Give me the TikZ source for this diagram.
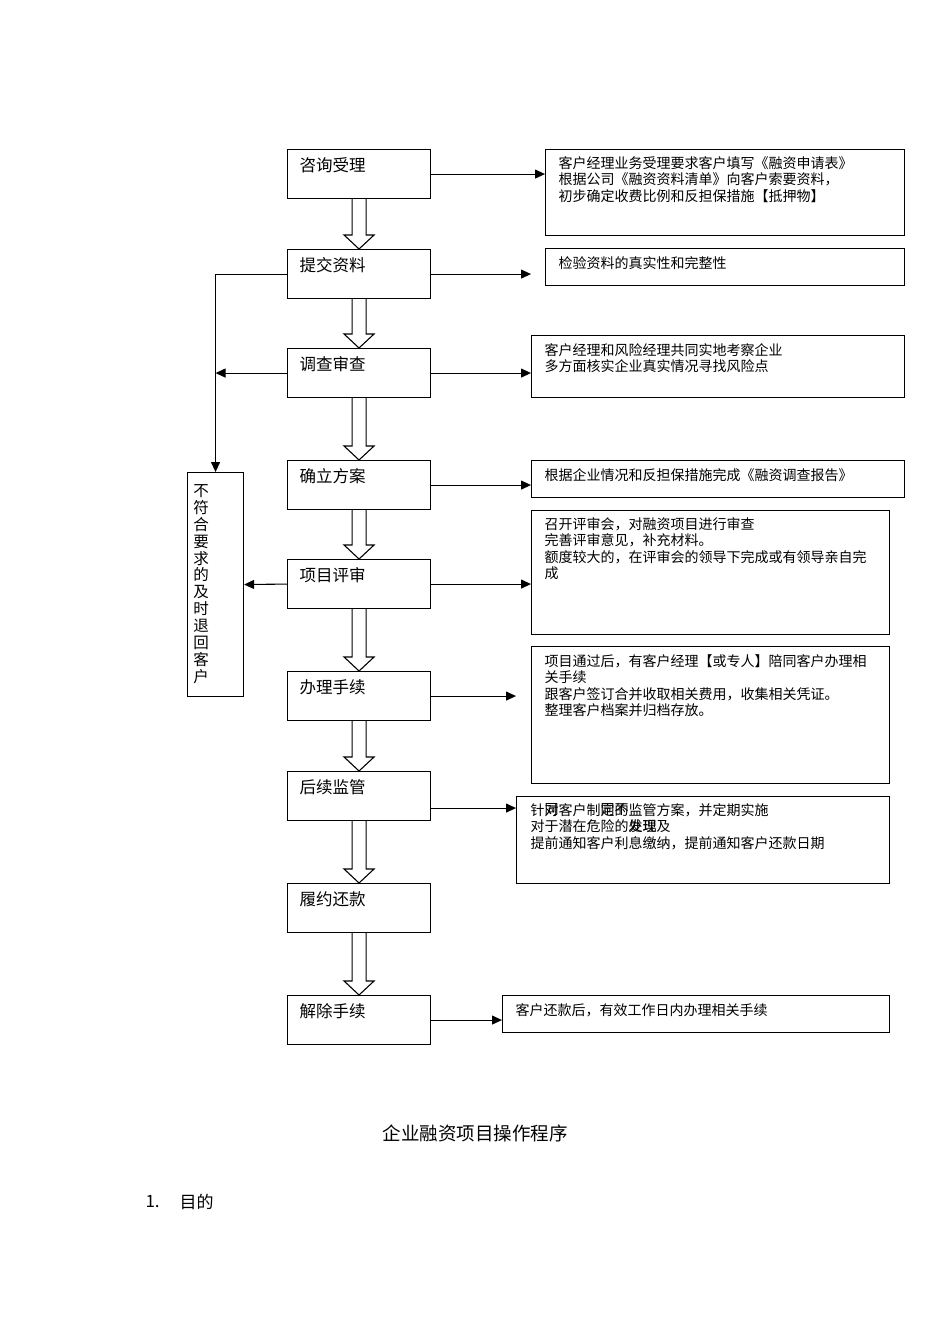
\documentclass[tikz,border=0pt]{standalone}
\usepackage{fontspec}
\setmainfont{Noto Sans CJK SC}
\usetikzlibrary{arrows.meta,calc}
\begin{document}
\begin{tikzpicture}[x=1pt,y=-1pt,
  line width=1.1pt,
  mainbox/.style={draw, anchor=north west, inner xsep=12pt, inner ysep=0pt,
    text width=119pt, align=left, text height=22pt, text depth=27pt,
    font=\fontsize{16.5}{18}\selectfont},
  rbox/.style={draw, anchor=north west, inner sep=0pt},
  rtext/.style={anchor=north west, inner sep=0pt, align=left,
    font=\fontsize{14}{16.5}\selectfont},
  arr/.style={-{Triangle[length=10pt,width=9pt]}},
  hollow/.style={draw, fill=white, line width=1.1pt, line join=miter}
]
\useasboundingbox (0,0) rectangle (950,1344);
\newcommand\harrow[2]{%
  \path[hollow] ($(#1.south)+(-7,0)$) -- ($(#2.north)+(-7,-14)$) -- ($(#2.north)+(-15,-14)$)
    -- (#2.north) -- ($(#2.north)+(15,-14)$) -- ($(#2.north)+(7,-14)$) -- ($(#1.south)+(7,0)$);}

% main boxes
\node[mainbox] (n1) at (287,149) {咨询受理};
\node[mainbox] (n2) at (287,249) {提交资料};
\node[mainbox] (n3) at (287,348) {调查审查};
\node[mainbox] (n4) at (287,460) {确立方案};
\node[mainbox] (n5) at (287,559) {项目评审};
\node[mainbox] (n6) at (287,671) {办理手续};
\node[mainbox] (n7) at (287,771) {后续监管};
\node[mainbox] (n8) at (287,883) {履约还款};
\node[mainbox] (n9) at (287,995) {解除手续};

\harrow{n1}{n2}
\harrow{n2}{n3}
\harrow{n3}{n4}
\harrow{n4}{n5}
\harrow{n5}{n6}
\harrow{n6}{n7}
\harrow{n7}{n8}
\harrow{n8}{n9}

% left box
\node[rbox, minimum width=56pt, minimum height=224pt] (lb) at (187,472) {};
\node[anchor=north, inner sep=0pt, align=center,
  font=\fontsize{15.5}{16.9}\selectfont] (lbt) at (201,484)
  {不\\符\\合\\要\\求\\的\\及\\时\\退\\回\\客\\户};

% right boxes
\node[rbox, minimum width=359pt, minimum height=86pt]  (r1) at (545,149) {};
\node[rbox, minimum width=359pt, minimum height=37pt]  (r2) at (545,248) {};
\node[rbox, minimum width=373pt, minimum height=62pt]  (r3) at (531,335) {};
\node[rbox, minimum width=373pt, minimum height=37pt]  (r4) at (531,460) {};
\node[rbox, minimum width=358pt, minimum height=124pt] (r5) at (531,510) {};
\node[rbox, minimum width=358pt, minimum height=137pt] (r6) at (531,646) {};
\node[rbox, minimum width=373pt, minimum height=87pt]  (r7) at (516,796) {};
\node[rbox, minimum width=387pt, minimum height=37pt]  (r8) at (502,995) {};

\node[rtext] (t1) at (558,156) {客户经理业务受理要求客户填写《融资申请表》\\根据公司《融资资料清单》向客户索要资料，\\初步确定收费比例和反担保措施【抵押物】};
\node[rtext] (t2) at (558,256) {检验资料的真实性和完整性};
\node[rtext] (t3) at (544,343) {客户经理和风险经理共同实地考察企业\\多方面核实企业真实情况寻找风险点};
\node[rtext] (t4) at (544,468) {根据企业情况和反担保措施完成《融资调查报告》};
\node[rtext] (t5) at (544,517) {召开评审会，对融资项目进行审查\\完善评审意见，补充材料。\\额度较大的，在评审会的领导下完成或有领导亲自完\\成};
\node[rtext] (t6) at (544,654) {项目通过后，有客户经理【或专人】陪同客户办理相\\关手续\\跟客户签订合并收取相关费用，收集相关凭证。\\整理客户档案并归档存放。};
\node[rtext] (t7) at (530,803) {针对客户制定的监管方案，并定期实施\\对于潜在危险的处理及\\提前通知客户利息缴纳，提前通知客户还款日期};
\node[rtext] (t7b) at (530,803) {\hphantom{针}同\hphantom{客户制}同不\\\hphantom{对于潜在危险的}发现};
\node[rtext] (t8) at (515,1003) {客户还款后，有效工作日内办理相关手续};

% right connectors
\draw[arr] (n1.east) -- (n1.east -| r1.west);
\draw[arr] (n2.east) -- (n2.east -| r3.west);
\draw[arr] (n3.east) -- (n3.east -| r3.west);
\draw[arr] (n4.east) -- (n4.east -| r4.west);
\draw[arr] (n5.east) -- (n5.east -| r5.west);
\draw[arr] (n6.east) -- (n6.east -| r7.west);
\coordinate (c7) at ($(n7.east)+(0,12)$);
\draw[arr] (c7) -- (c7 -| r7.west);
\draw[arr] (n9.east) -- (n9.east -| r8.west);

% left connectors
\draw[arr] (n2.west) -| (lb.north);
\draw[arr] (n3.west) -- (n3.west -| lb.north);
\draw[arr] (n5.west) -- (lb.east);

% caption
\node[inner sep=0pt, font=\fontsize{18.5}{20}\selectfont] (cap) at (475,1133) {企业融资项目操作程序};
\node[anchor=west, inner sep=0pt, font=\fontsize{17}{20}\selectfont] (s1) at (145,1202) {1.};
\node[anchor=west, inner sep=0pt, font=\fontsize{17}{20}\selectfont] (s1t) at (179,1202) {目的};
\end{tikzpicture}
\end{document}
